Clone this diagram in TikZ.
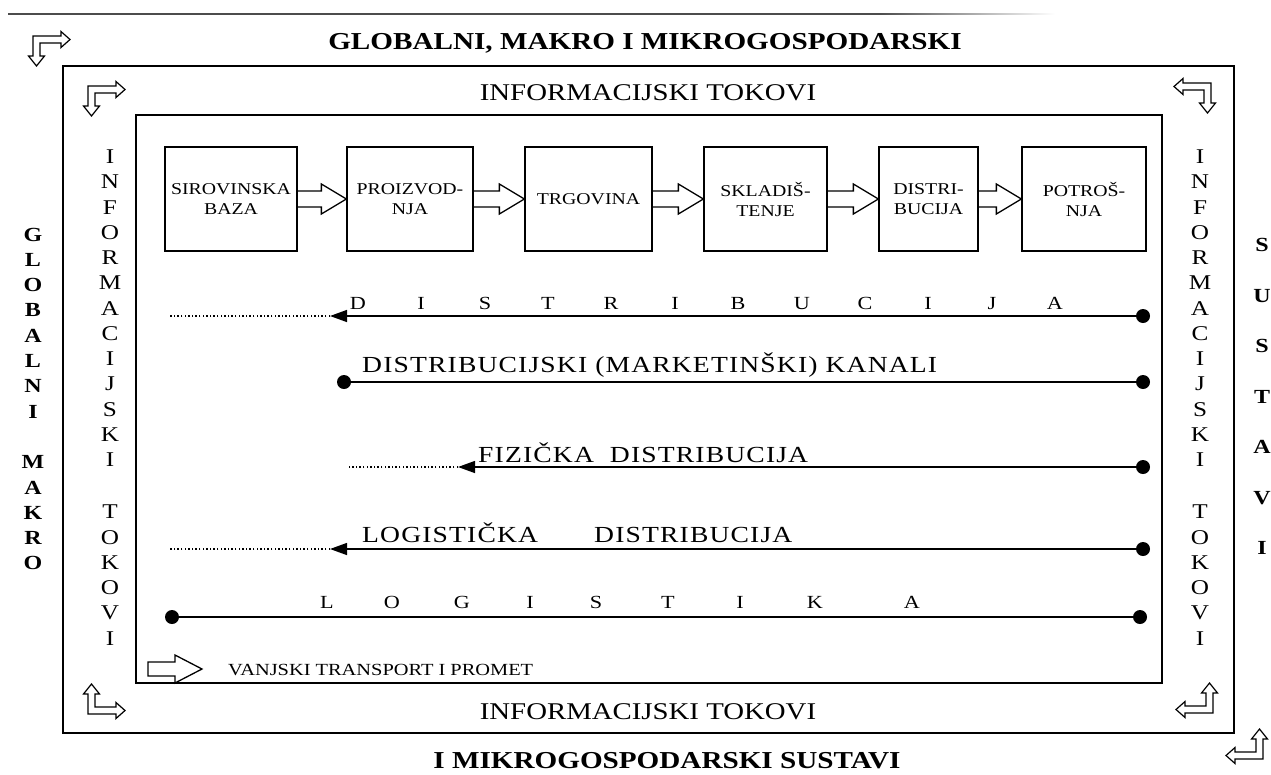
\documentclass[tikz,border=0pt]{standalone}
\usepackage{fontspec}
\setmainfont[FakeStretch=1.2]{Liberation Serif}
\newfontfamily\trackfont[FakeStretch=1.2,LetterSpace=5]{Liberation Serif}
\usetikzlibrary{arrows.meta,calc}

\tikzset{
  frameline/.style={line width=1.6pt},
  stagebox/.style={draw, line width=1.3pt, minimum height=104pt, inner sep=0pt,
    align=center, font=\fontsize{16.5}{20}\selectfont},
  hollow/.style={line width=1.3pt, line join=miter},
  elbowline/.style={line width=1.2pt, line join=miter},
  flow/.style={line width=1.4pt},
  trail/.style={line width=1.4pt, dash pattern=on 1.4pt off 2.2pt},
  blob/.style={circle, fill, inner sep=0pt, minimum size=14pt},
  headtip/.style={-{Triangle[length=17pt,width=12pt]}},
  linetext/.style={anchor=base west, inner sep=0pt, font=\trackfont\fontsize{23}{23}\selectfont},
  spaced/.style={anchor=base, inner sep=0pt, font=\fontsize{18.5}{18.5}\selectfont},
  heading/.style={anchor=base, inner sep=0pt, font=\bfseries\fontsize{24.3}{24.3}\selectfont},
  flowhead/.style={anchor=base, inner sep=0pt, font=\fontsize{24}{24}\selectfont},
  elbow/.pic={\draw[elbowline] (0,0) -- (28,0) -- (28,-4.5) -- (37,3.5) -- (28,11.5)
    -- (28,7) -- (7,7) -- (7,20) -- (11.5,20) -- (3.5,30) -- (-4.5,20) -- (0,20) -- cycle;},
}

% wide hollow arrow from the east side of one stage to the west side of the next
\newcommand\hollowlink[2]{%
  \draw[hollow] let \p1=(#1.east), \p2=(#2.west) in
    ({\x1},{\y1+8pt}) -- ({\x2-25pt},{\y1+8pt}) -- ({\x2-25pt},{\y1+15pt})
    -- ({\x2},{\y1}) -- ({\x2-25pt},{\y1-15pt}) -- ({\x2-25pt},{\y1-8pt})
    -- ({\x1},{\y1-8pt});}

\begin{document}
\begin{tikzpicture}[x=1pt,y=-1pt]
\path[use as bounding box, fill=white] (0,0) rectangle (1271,774);

% rule along the top edge, fading out to the right
\fill[black!70] (8,13.3) rectangle (880,14.7);
\shade[left color=black!70, right color=white] (880,13.3) rectangle (1055,14.7);

% nested frames
\draw[frameline] (63,66) rectangle (1234,733);
\draw[frameline] (136,115) rectangle (1162,683);

% headings
\node[heading] (glob) at (645,49) {GLOBALNI, MAKRO I MIKROGOSPODARSKI};
\node[heading] (sust) at (667,768) {I MIKROGOSPODARSKI SUSTAVI};
\node[flowhead] (infotop) at (648,100) {INFORMACIJSKI TOKOVI};
\node[flowhead] (infobot) at (648,719) {INFORMACIJSKI TOKOVI};

% vertical captions
\node[font=\bfseries\fontsize{20}{25.3}\selectfont, align=center, inner sep=0pt]
  (globmakro) at (33,399) {G\\L\\O\\B\\A\\L\\N\\I\\[25.3pt]M\\A\\K\\R\\O};
\node[font=\fontsize{21}{25.25}\selectfont, align=center, inner sep=0pt]
  (infoleft) at (110,397.5) {I\\N\\F\\O\\R\\M\\A\\C\\I\\J\\S\\K\\I\\[27pt]T\\O\\K\\O\\V\\I};
\node[font=\fontsize{21}{25.25}\selectfont, align=center, inner sep=0pt]
  (inforight) at (1200,397.5) {I\\N\\F\\O\\R\\M\\A\\C\\I\\J\\S\\K\\I\\[27pt]T\\O\\K\\O\\V\\I};
\node[font=\bfseries\fontsize{20}{50.5}\selectfont, align=center, inner sep=0pt]
  (sustavi) at (1262,396.5) {S\\U\\S\\T\\A\\V\\I};

% corner elbow arrows
\pic at (33,36) {elbow};
\pic at (88,86) {elbow};
\pic[xscale=-1] at (1211,83) {elbow};
\pic[yscale=-1] at (88,714) {elbow};
\pic[xscale=-1,yscale=-1] at (1213,713) {elbow};
\pic[xscale=-1,yscale=-1] at (1263,759) {elbow};

% chain of stages
\node[stagebox, minimum width=132pt] (s1) at (231,199) {SIROVINSKA\\BAZA};
\node[stagebox, minimum width=126pt] (s2) at (410,199) {PROIZVOD-\\NJA};
\node[stagebox, minimum width=127pt] (s3) at (588.5,199) {TRGOVINA};
\node[stagebox, minimum width=123pt] (s4) at (765.5,199) {SKLADIŠ-\\TENJE};
\node[stagebox, minimum width=99pt] (s5) at (928.5,199) {DISTRI-\\BUCIJA};
\node[stagebox, minimum width=124pt] (s6) at (1084,199) {POTROŠ-\\NJA};
\hollowlink{s1}{s2}
\hollowlink{s2}{s3}
\hollowlink{s3}{s4}
\hollowlink{s4}{s5}
\hollowlink{s5}{s6}

% distribucija
\foreach \c/\x [count=\i] in {D/358,I/421,S/485,T/548,R/611,I/675,B/738,U/802,C/865,I/928,J/992,A/1055}
  \node[spaced] (dl\i) at (\x,309) {\c};
\node[blob] (r1) at (1143,316) {};
\coordinate (a1) at (330,316);
\coordinate (e1) at (170,316);
\draw[flow, headtip] (r1) -- (a1);
\draw[trail] (a1) -- (e1);

% distribucijski kanali
\node[linetext] (kanali) at (362,372) {DISTRIBUCIJSKI (MARKETINŠKI) KANALI};
\node[blob] (r2) at (1143,382) {};
\node[blob] (l2) at (344,382) {};
\draw[flow] (r2) -- (l2);

% fizicka distribucija
\node[linetext] (fiz) at (478,462) {FIZIČKA\hspace{8pt} DISTRIBUCIJA};
\node[blob] (r3) at (1143,467) {};
\coordinate (a3) at (458,467);
\coordinate (e3) at (347,467);
\draw[flow, headtip] (r3) -- (a3);
\draw[trail] (a3) -- (e3);

% logisticka distribucija
\node[linetext] (logd1) at (362,542) {LOGISTIČKA};
\node[linetext] (logd2) at (594,542) {DISTRIBUCIJA};
\node[blob] (r4) at (1143,549) {};
\coordinate (a4) at (330,549);
\coordinate (e4) at (170,549);
\draw[flow, headtip] (r4) -- (a4);
\draw[trail] (a4) -- (e4);

% logistika
\foreach \c/\x [count=\i] in {L/327,O/392,G/462,I/530,S/596,T/668,I/740,K/815,A/912}
  \node[spaced] (lg\i) at (\x,608) {\c};
\node[blob] (r5) at (1140,617) {};
\node[blob] (l5) at (172,617) {};
\draw[flow] (r5) -- (l5);

% external transport
\draw[hollow] (148,662) -- (175,662) -- (175,655) -- (202,669) -- (175,683)
  -- (175,676) -- (148,676) -- cycle;
\node[anchor=base west, inner sep=0pt, font=\fontsize{17}{17}\selectfont]
  (vanjski) at (228,675) {VANJSKI TRANSPORT I PROMET};
\end{tikzpicture}
\end{document}
